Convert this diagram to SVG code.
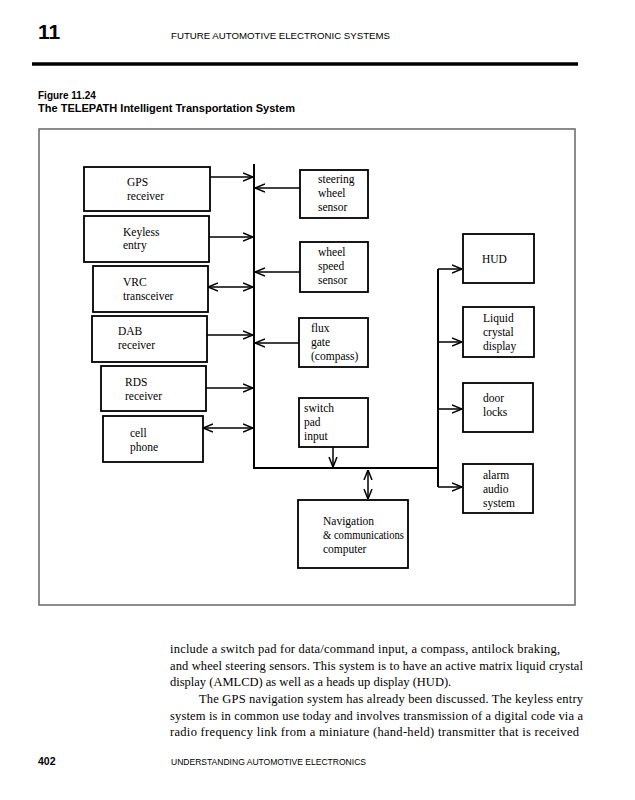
<svg xmlns="http://www.w3.org/2000/svg" width="635" height="800" viewBox="0 0 635 800">
<style>
.box{fill:#fff;stroke:#000;stroke-width:1.8}
.lbl{font-family:"Liberation Serif","Times New Roman",serif;font-size:11.5px;fill:#000}
.con{fill:none;stroke:#000;stroke-width:1.5}
.bus{fill:none;stroke:#000;stroke-width:2}
.sans{font-family:"Liberation Sans",Arial,sans-serif;fill:#000}
.body{font-family:"Liberation Serif","Times New Roman",serif;font-size:12.5px;fill:#000}
</style>
<defs>
<marker id="ah" viewBox="0 0 10 10" refX="10" refY="5" markerWidth="10" markerHeight="10" markerUnits="userSpaceOnUse" orient="auto-start-reverse">
<path d="M0,1 L10,5 L0,9" fill="none" stroke="#000" stroke-width="1.5"/>
</marker>
</defs>
<rect width="635" height="800" fill="#fff"/>
<g id="page-header">
<text class="sans" x="38" y="39" font-size="21" font-weight="bold">11</text>
<text class="sans" x="171" y="39" font-size="9" textLength="219" lengthAdjust="spacingAndGlyphs">FUTURE AUTOMOTIVE ELECTRONIC SYSTEMS</text>
<line x1="32" y1="64" x2="578" y2="64" stroke="#000" stroke-width="3.5"/>
<text class="sans" x="38" y="99" font-size="10" font-weight="bold">Figure 11.24</text>
<text class="sans" x="38" y="112" font-size="10" font-weight="bold" textLength="257" lengthAdjust="spacingAndGlyphs">The TELEPATH Intelligent Transportation System</text>
</g>
<rect id="frame" x="39" y="129" width="536" height="476" fill="none" stroke="#666" stroke-width="1.5"/>
<g id="connectors">
<path class="bus" d="M254,164 V468 H438"/>
<path class="bus" d="M438,269 V487"/>
<path class="con" d="M210,177 H253" marker-end="url(#ah)"/>
<path class="con" d="M209,237 H253" marker-end="url(#ah)"/>
<path class="con" d="M208,287 H253" marker-start="url(#ah)" marker-end="url(#ah)"/>
<path class="con" d="M207,335 H253" marker-end="url(#ah)"/>
<path class="con" d="M206,388 H253" marker-end="url(#ah)"/>
<path class="con" d="M203,428 H253" marker-start="url(#ah)" marker-end="url(#ah)"/>
<path class="con" d="M300,188 H255" marker-end="url(#ah)"/>
<path class="con" d="M300,272 H255" marker-end="url(#ah)"/>
<path class="con" d="M299,343 H255" marker-end="url(#ah)"/>
<path class="con" d="M333,447 V467" marker-end="url(#ah)"/>
<path class="con" d="M368,470 V499" marker-start="url(#ah)" marker-end="url(#ah)"/>
<path class="con" d="M438,269 H462" marker-end="url(#ah)"/>
<path class="con" d="M438,342 H462" marker-end="url(#ah)"/>
<path class="con" d="M438,409 H462" marker-end="url(#ah)"/>
<path class="con" d="M438,487 H462" marker-end="url(#ah)"/>
</g>
<g id="gps"><rect class="box" x="84" y="167" width="126" height="44"/><text class="lbl" x="127" y="186">GPS</text><text class="lbl" x="127" y="200">receiver</text></g>
<g id="keyless"><rect class="box" x="84" y="216" width="125" height="46"/><text class="lbl" x="123" y="236">Keyless</text><text class="lbl" x="123" y="249">entry</text></g>
<g id="vrc"><rect class="box" x="93" y="266" width="115" height="46"/><text class="lbl" x="123" y="286">VRC</text><text class="lbl" x="123" y="300">transceiver</text></g>
<g id="dab"><rect class="box" x="92" y="316" width="115" height="46"/><text class="lbl" x="118" y="335">DAB</text><text class="lbl" x="118" y="349">receiver</text></g>
<g id="rds"><rect class="box" x="101" y="366" width="105" height="45"/><text class="lbl" x="125" y="386">RDS</text><text class="lbl" x="125" y="400">receiver</text></g>
<g id="cell"><rect class="box" x="103" y="416" width="100" height="46"/><text class="lbl" x="130" y="437">cell</text><text class="lbl" x="130" y="451">phone</text></g>
<g id="steering"><rect class="box" x="300" y="170" width="68" height="48"/><text class="lbl" x="318" y="183">steering</text><text class="lbl" x="318" y="197">wheel</text><text class="lbl" x="318" y="211">sensor</text></g>
<g id="wheelspeed"><rect class="box" x="300" y="242" width="68" height="50"/><text class="lbl" x="318" y="256">wheel</text><text class="lbl" x="318" y="270">speed</text><text class="lbl" x="318" y="284">sensor</text></g>
<g id="flux"><rect class="box" x="299" y="318" width="69" height="49"/><text class="lbl" x="311" y="332">flux</text><text class="lbl" x="311" y="346">gate</text><text class="lbl" x="311" y="360">(compass)</text></g>
<g id="switchpad"><rect class="box" x="299" y="398" width="69" height="49"/><text class="lbl" x="304" y="412">switch</text><text class="lbl" x="304" y="426">pad</text><text class="lbl" x="304" y="440">input</text></g>
<g id="nav"><rect class="box" x="298" y="500" width="110" height="68"/><text class="lbl" x="323" y="525">Navigation</text><text class="lbl" x="323" y="539" textLength="81" lengthAdjust="spacingAndGlyphs">&amp; communications</text><text class="lbl" x="323" y="553">computer</text></g>
<g id="hud"><rect class="box" x="463" y="234" width="71" height="49"/><text class="lbl" x="482" y="263">HUD</text></g>
<g id="lcd"><rect class="box" x="463" y="307" width="71" height="50"/><text class="lbl" x="483" y="322">Liquid</text><text class="lbl" x="483" y="336">crystal</text><text class="lbl" x="483" y="350">display</text></g>
<g id="door"><rect class="box" x="463" y="383" width="70" height="49"/><text class="lbl" x="483" y="402">door</text><text class="lbl" x="483" y="416">locks</text></g>
<g id="alarm"><rect class="box" x="463" y="464" width="70" height="49"/><text class="lbl" x="483" y="479">alarm</text><text class="lbl" x="483" y="493">audio</text><text class="lbl" x="483" y="507">system</text></g>
<g id="body-text">
<text class="body" x="170" y="653" textLength="390" lengthAdjust="spacing">include a switch pad for data/command input, a compass, antilock braking,</text>
<text class="body" x="170" y="670" textLength="413" lengthAdjust="spacing">and wheel steering sensors. This system is to have an active matrix liquid crystal</text>
<text class="body" x="170" y="686">display (AMLCD) as well as a heads up display (HUD).</text>
<text class="body" x="199" y="703" textLength="384" lengthAdjust="spacing">The GPS navigation system has already been discussed. The keyless entry</text>
<text class="body" x="170" y="720" textLength="413" lengthAdjust="spacing">system is in common use today and involves transmission of a digital code via a</text>
<text class="body" x="170" y="736" textLength="409" lengthAdjust="spacing">radio frequency link from a miniature (hand-held) transmitter that is received</text>
</g>
<g id="page-footer">
<text class="sans" x="38" y="765" font-size="10.5" font-weight="bold">402</text>
<text class="sans" x="171" y="765" font-size="8.5" textLength="195" lengthAdjust="spacingAndGlyphs">UNDERSTANDING AUTOMOTIVE ELECTRONICS</text>
</g>
</svg>
